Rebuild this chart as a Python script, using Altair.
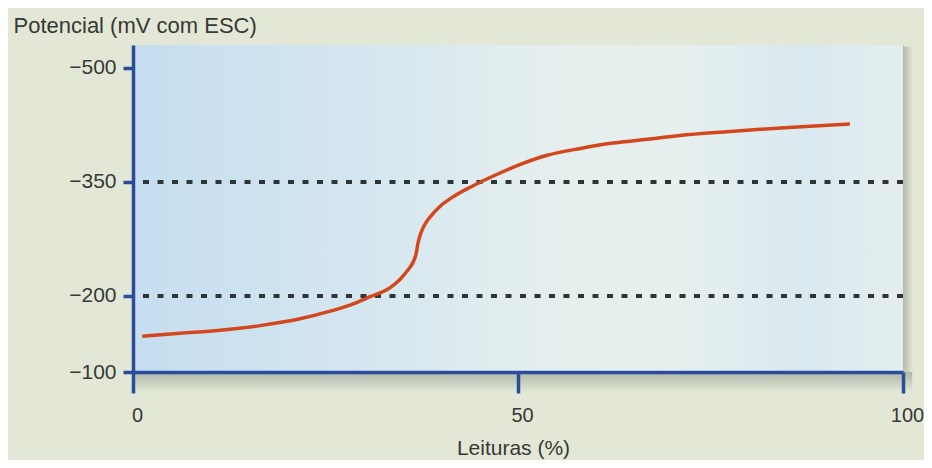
import altair as alt
import pandas as pd

# ---- data ----
x_pct = [1.2, 6.1, 11.3, 16.5, 21.7, 25.6, 28.2, 30.8, 33.4, 34.7, 35.7, 36.4,
         36.8, 37.0, 37.4, 37.9, 38.6, 39.9, 41.2, 42.5, 43.8, 47.3, 50.3, 53.8,
         58.1, 62.3, 66.8, 71.0, 77.1, 85.7, 93.1]
potential = [-147, -151, -155, -161, -170, -180, -188, -199, -211, -222, -234, -245,
             -257, -269, -283, -294, -304, -318, -328, -336, -343, -360, -373, -385,
             -394, -401, -406, -411, -416, -422, -426]
ref_levels = [-350, -200]
y_ticks = [-500, -350, -200, -100]
x_ticks = [0, 50, 100]
x_domain = [0, 100]
y_domain = [-530, -100]

curve = pd.DataFrame({"x": x_pct, "y": potential})
refs = pd.DataFrame({"y": ref_levels})
bg = pd.DataFrame({"x0": [x_domain[0]], "x1": [x_domain[1]],
                   "y0": [y_domain[0]], "y1": [y_domain[1]]})
# drop-shadow strips just outside the panel (below and right)
shadow_b = pd.DataFrame({"x0": [0.3], "x1": [101.2], "y0": [-100], "y1": [-74]})
shadow_r = pd.DataFrame({"x0": [100], "x1": [101.3], "y0": [-528], "y1": [-100]})

AXIS_BLUE = "#2a4c9c"
TEXT = "#383838"
FONT = "Liberation Sans"
PAGE = "#e2e8d5"

x_scale = alt.Scale(domain=x_domain, nice=False, zero=False)
y_scale = alt.Scale(domain=y_domain, reverse=True, nice=False, zero=False)

x_axis = alt.Axis(
    values=x_ticks, title="Leituras (%)", grid=False, zindex=1,
    domainColor=AXIS_BLUE, domainWidth=3.5,
    tickColor=AXIS_BLUE, tickWidth=3.5, tickSize=21,
    labelFlush=False, labelPadding=12, labelFont=FONT, labelFontSize=20,
    labelColor=TEXT, labelOffset=4,
    titleFont=FONT, titleFontSize=21, titleFontWeight="normal", titleColor=TEXT,
    titleX=380, titleY=82, titleAlign="center", titleBaseline="alphabetic",
)
y_axis = alt.Axis(
    values=y_ticks, title="Potencial (mV com ESC)", grid=False, zindex=1,
    domainColor=AXIS_BLUE, domainWidth=3.5,
    tickColor=AXIS_BLUE, tickWidth=3.5, tickSize=10,
    labelPadding=7, labelFont=FONT, labelFontSize=21, labelColor=TEXT,
    titleFont=FONT, titleFontSize=22, titleFontWeight="normal", titleColor=TEXT,
    titleAngle=0, titleAlign="left", titleBaseline="alphabetic",
    titleX=-120, titleY=-13,
)

gradient = {
    "gradient": "linear", "x1": 0, "y1": 0, "x2": 1, "y2": 0,
    "stops": [
        {"offset": 0.0, "color": "#c6def0"},
        {"offset": 0.3, "color": "#d4e6f0"},
        {"offset": 0.5, "color": "#e3eeee"},
        {"offset": 0.7, "color": "#e7f0ee"},
        {"offset": 0.87, "color": "#dae9f0"},
        {"offset": 1.0, "color": "#e4eeee"},
    ],
}
shade_down = {
    "gradient": "linear", "x1": 0, "y1": 0, "x2": 0, "y2": 1,
    "stops": [{"offset": 0.0, "color": "#aeb4a8"}, {"offset": 1.0, "color": PAGE}],
}
shade_right = {
    "gradient": "linear", "x1": 0, "y1": 0, "x2": 1, "y2": 0,
    "stops": [{"offset": 0.0, "color": "#b4baae"}, {"offset": 1.0, "color": PAGE}],
}

background = alt.Chart(bg).mark_rect(color=gradient).encode(
    x=alt.X("x0:Q", scale=x_scale, axis=x_axis),
    x2="x1:Q",
    y=alt.Y("y0:Q", scale=y_scale, axis=y_axis),
    y2="y1:Q",
)
shadow_bottom = alt.Chart(shadow_b).mark_rect(color=shade_down).encode(
    x="x0:Q", x2="x1:Q", y="y0:Q", y2="y1:Q")
shadow_right = alt.Chart(shadow_r).mark_rect(color=shade_right).encode(
    x="x0:Q", x2="x1:Q", y="y0:Q", y2="y1:Q")

rules = alt.Chart(refs).mark_rule(
    color="#2f3434", strokeWidth=4, strokeDash=[6, 8.5]
).encode(y="y:Q")

line = alt.Chart(curve).mark_line(
    color="#d4471c", strokeWidth=3.5, interpolate="monotone"
).encode(x="x:Q", y="y:Q")

chart = alt.layer(background, shadow_bottom, shadow_right, rules, line).properties(
    width=770, height=327,
    autosize=alt.AutoSizeParams(type="none"),
    padding={"left": 125, "top": 37, "right": 21, "bottom": 88},
    background=PAGE,
).configure_view(stroke="#a3aaa3", strokeWidth=1)

chart.save("out.html", embed_options={"renderer": "svg", "actions": False})
